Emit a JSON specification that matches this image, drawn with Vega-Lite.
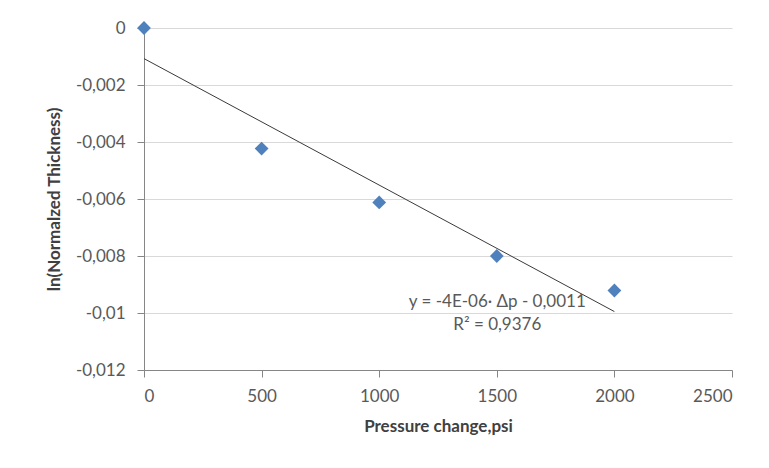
{
  "$schema": "https://vega.github.io/schema/vega-lite/v6.json",
  "width": 588,
  "height": 342,
  "autosize": {"type": "none"},
  "padding": {"left": 144, "top": 28, "right": 37, "bottom": 98},
  "background": "white",
  "data": {
    "values": [
      {"p": 0, "lnT": 0},
      {"p": 500, "lnT": -0.00423},
      {"p": 1000, "lnT": -0.00612},
      {"p": 1500, "lnT": -0.00800},
      {"p": 2000, "lnT": -0.00921}
    ]
  },
  "layer": [
    {
      "transform": [
        {"regression": "lnT", "on": "p", "extent": [0, 2000]}
      ],
      "mark": {"type": "line", "color": "#3a3a3a", "strokeWidth": 1},
      "encoding": {
        "x": {"field": "p", "type": "quantitative"},
        "y": {"field": "lnT", "type": "quantitative"}
      }
    },
    {
      "mark": {"type": "point", "shape": "diamond", "filled": true, "size": 190, "color": "#4F81BD", "opacity": 1},
      "encoding": {
        "x": {
          "field": "p", "type": "quantitative",
          "scale": {"domain": [0, 2500], "nice": false, "zero": false},
          "axis": {
            "title": "Pressure change,psi",
            "values": [0, 500, 1000, 1500, 2000, 2500],
            "format": "d",
            "grid": false,
            "tickSize": 7,
            "labelPadding": 11,
            "titlePadding": 14
          }
        },
        "y": {
          "field": "lnT", "type": "quantitative",
          "scale": {"domain": [-0.012, 0], "nice": false, "zero": false},
          "axis": {
            "title": "ln(Normalzed Thickness)",
            "values": [0, -0.002, -0.004, -0.006, -0.008, -0.01, -0.012],
            "labelExpr": "replace(replace(format(datum.value, '~g'), '.', ','), '\u2212', '-')",
            "grid": true,
            "tickSize": 7,
            "labelPadding": 12,
            "titlePadding": 12
          }
        }
      }
    },
    {
      "data": {"values": [{"eq": "y = -4E-06· Δp - 0,0011", "r2": "R² = 0,9376"}]},
      "mark": {"type": "text", "font": "Lato", "fontSize": 17, "fontWeight": "normal", "fill": "#595959", "align": "center", "baseline": "middle", "lineHeight": 23},
      "encoding": {
        "x": {"datum": 1502},
        "y": {"datum": -0.00963},
        "text": {"value": ["y = -4E-06· Δp - 0,0011", "R² = 0,9376"]}
      }
    }
  ],
  "config": {
    "view": {"stroke": null},
    "axis": {
      "labelFont": "Lato",
      "labelFontSize": 17,
      "labelColor": "#595959",
      "titleFont": "Lato",
      "titleFontSize": 17,
      "titleFontWeight": "bold",
      "titleColor": "#404040",
      "domainColor": "#868686",
      "tickColor": "#868686",
      "gridColor": "#d9d9d9",
      "gridWidth": 1.2
    }
  }
}
